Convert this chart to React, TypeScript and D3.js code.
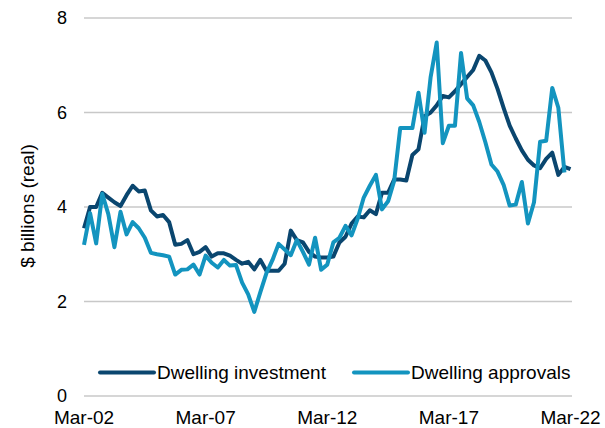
import React, { useRef, useEffect } from 'react';
import * as d3 from 'd3';

// quarterly, Mar-02 .. Mar-22
const investment = [
  3.55, 4.0, 4.0, 4.3, 4.2, 4.1, 4.02, 4.25, 4.45, 4.33,
  4.35, 3.93, 3.8, 3.83, 3.68, 3.2, 3.22, 3.3, 3.0, 3.05,
  3.15, 2.95, 3.02, 3.02, 2.97, 2.88, 2.8, 2.84, 2.68, 2.88,
  2.65, 2.65, 2.65, 2.8, 3.5, 3.3, 3.25, 3.05, 2.95, 2.93,
  2.93, 2.95, 3.25, 3.37, 3.65, 3.8, 3.78, 3.93, 3.85, 4.3,
  4.3, 4.58, 4.58, 4.56, 5.1, 5.22, 5.92, 6.0, 6.15, 6.35,
  6.32, 6.45, 6.6, 6.75, 6.9, 7.2, 7.1, 6.85, 6.5, 6.1,
  5.72, 5.45, 5.2, 5.0, 4.88, 4.82, 5.02, 5.15, 4.68, 4.85,
  4.8,
];
const approvals = [
  3.2, 3.87, 3.23, 4.28, 3.85, 3.15, 3.9, 3.42, 3.68, 3.55,
  3.35, 3.03, 3.0, 2.98, 2.95, 2.57, 2.67, 2.68, 2.78, 2.57,
  2.97, 2.82, 2.72, 2.88, 2.76, 2.77, 2.4, 2.15, 1.78, 2.2,
  2.6, 2.88, 3.22, 3.1, 2.98, 3.3, 3.05, 2.78, 3.35, 2.67,
  2.78, 3.25, 3.35, 3.6, 3.4, 3.75, 4.2, 4.45, 4.68, 3.95,
  4.12, 4.55, 5.67, 5.67, 5.67, 6.42, 5.57, 6.75, 7.48, 5.35,
  5.72, 5.72, 7.26, 6.3, 6.15, 5.8, 5.37, 4.9, 4.75, 4.47,
  4.03, 4.05, 4.53, 3.65, 4.1, 5.38, 5.4, 6.52, 6.1, 4.73,
];
const yTicks = [0, 2, 4, 6, 8];
const xTickLabels = ['Mar-02', 'Mar-07', 'Mar-12', 'Mar-17', 'Mar-22'];
const seriesNames = ['Dwelling investment', 'Dwelling approvals'];
const colors = ['#0a466f', '#1394bf'];

export default function App() {
  const ref = useRef<SVGSVGElement>(null);

  useEffect(() => {
    const svg = d3.select(ref.current);
    svg.selectAll('*').remove();
    const font = 'Liberation Sans, Arial, sans-serif';

    const x = d3.scaleLinear().domain([0, 80]).range([84, 570.5]);
    const y = d3.scaleLinear().domain([0, 8]).range([396, 18]);

    // gridlines
    svg.append('g')
      .selectAll('line')
      .data(yTicks)
      .enter()
      .append('line')
      .attr('x1', 84)
      .attr('x2', 572)
      .attr('y1', (d) => y(d))
      .attr('y2', (d) => y(d))
      .attr('stroke', '#c8c8c8')
      .attr('stroke-width', 1.5);

    svg.append('g')
      .selectAll('text')
      .data(yTicks)
      .enter()
      .append('text')
      .attr('x', 67)
      .attr('y', (d) => y(d))
      .attr('dy', '0.35em')
      .attr('text-anchor', 'end')
      .attr('font-family', font)
      .attr('font-size', 18)
      .text((d) => d);

    svg.append('g')
      .selectAll('text')
      .data(xTickLabels)
      .enter()
      .append('text')
      .attr('x', (d, i) => x(i * 20))
      .attr('y', 424)
      .attr('text-anchor', 'middle')
      .attr('font-family', font)
      .attr('font-size', 19)
      .text((d) => d);

    svg.append('text')
      .attr('transform', 'translate(34,206) rotate(-90)')
      .attr('text-anchor', 'middle')
      .attr('font-family', font)
      .attr('font-size', 19)
      .text('$ billions (real)');

    const line = d3.line<number>()
      .x((d, i) => x(i))
      .y((d) => y(d));

    [investment, approvals].forEach((s, k) => {
      svg.append('path')
        .datum(s)
        .attr('d', line)
        .attr('fill', 'none')
        .attr('stroke', colors[k])
        .attr('stroke-width', 4)
        .attr('stroke-linejoin', 'round');
    });

    // legend
    const legX = [100, 354];
    seriesNames.forEach((name, k) => {
      const g = svg.append('g').attr('transform', `translate(${legX[k]},372.5)`);
      g.append('line')
        .attr('x1', 0)
        .attr('x2', 54)
        .attr('stroke', colors[k])
        .attr('stroke-width', 4)
        .attr('stroke-linecap', 'round');
      g.append('text')
        .attr('x', 57)
        .attr('dy', '0.35em')
        .attr('font-family', font)
        .attr('font-size', 19)
        .text(name);
    });
  }, []);

  return (
    <svg
      ref={ref}
      width={605}
      height={428}
      style={{ position: 'absolute', left: 0, top: 0, background: '#fff' }}
    />
  );
}
